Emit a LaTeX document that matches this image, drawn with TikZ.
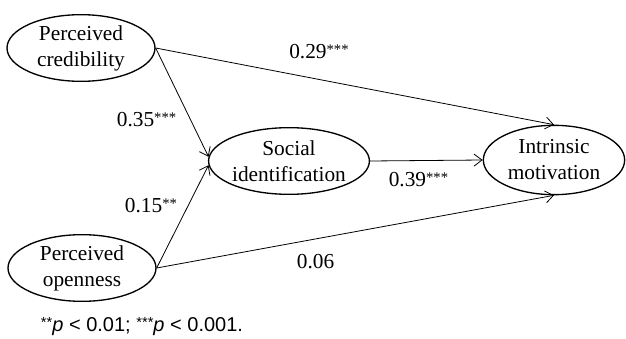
\documentclass[tikz,border=0pt]{standalone}
\usepackage{fontspec}
\setmainfont{Liberation Serif}
\newfontfamily\notefont{Liberation Sans}
\usepackage{tikz}
\usetikzlibrary{shapes.geometric, arrows.meta, positioning}

\newcommand{\sig}[1]{{\fontsize{11}{11}\selectfont\raisebox{3pt}{#1}}}

\begin{document}
\begin{tikzpicture}[
    x=0.75pt, y=-0.75pt,
    % --- STYLES ---
    construct/.style={
        ellipse, draw=black, line width=1pt,
        minimum width=111pt, minimum height=50pt,
        inner sep=0pt, align=center,
        font=\fontsize{16}{19.5}\selectfont
    },
    link/.style={-{Straight Barb[length=6pt, width=9pt]}, line width=0.6pt},
    coef/.style={inner sep=0pt, font=\fontsize{16}{19}\selectfont}
]

\useasboundingbox (0,0) rectangle (626,339);

% ===== 1. CONSTRUCTS =====
\node[construct] (cred) at (81,48) {Perceived\\ credibility};
\node[construct] (open) at (82,268) {Perceived\\ openness};

\node[construct, minimum width=112pt] (soc) at (289,161) {Social\\ identification};
\node[construct, minimum width=106pt, minimum height=52pt] (intr) at (554,160) {Intrinsic\\ motivation};

% ===== 2. PATHS =====
% Direct effects to motivation
\draw[link] (cred.east) -- node[coef, pos=.41, yshift=21pt] {0.29\sig{***}} (intr.north);
\draw[link] (open.east) -- node[coef, pos=.40, yshift=-17pt] {0.06} (intr.south);

% Effects on identification
\draw[link] (cred.east) -- node[coef, pos=.66, xshift=-33pt] {0.35\sig{***}} (soc.177);
\draw[link] (open.east) -- node[coef, pos=.61, xshift=-28pt] {0.15\sig{**}} (soc.183);

% Mediator
\draw[link] (soc.east) -- node[coef, pos=.43, yshift=-14pt] {0.39\sig{***}} (intr.west);

% ===== 3. NOTE =====
\node[inner sep=0pt, font=\notefont\fontsize{15}{18}\selectfont] (note) at (142,327)
    {\sig{**}\textit{p} < 0.01; \sig{***}\textit{p} < 0.001.};

\end{tikzpicture}
\end{document}
